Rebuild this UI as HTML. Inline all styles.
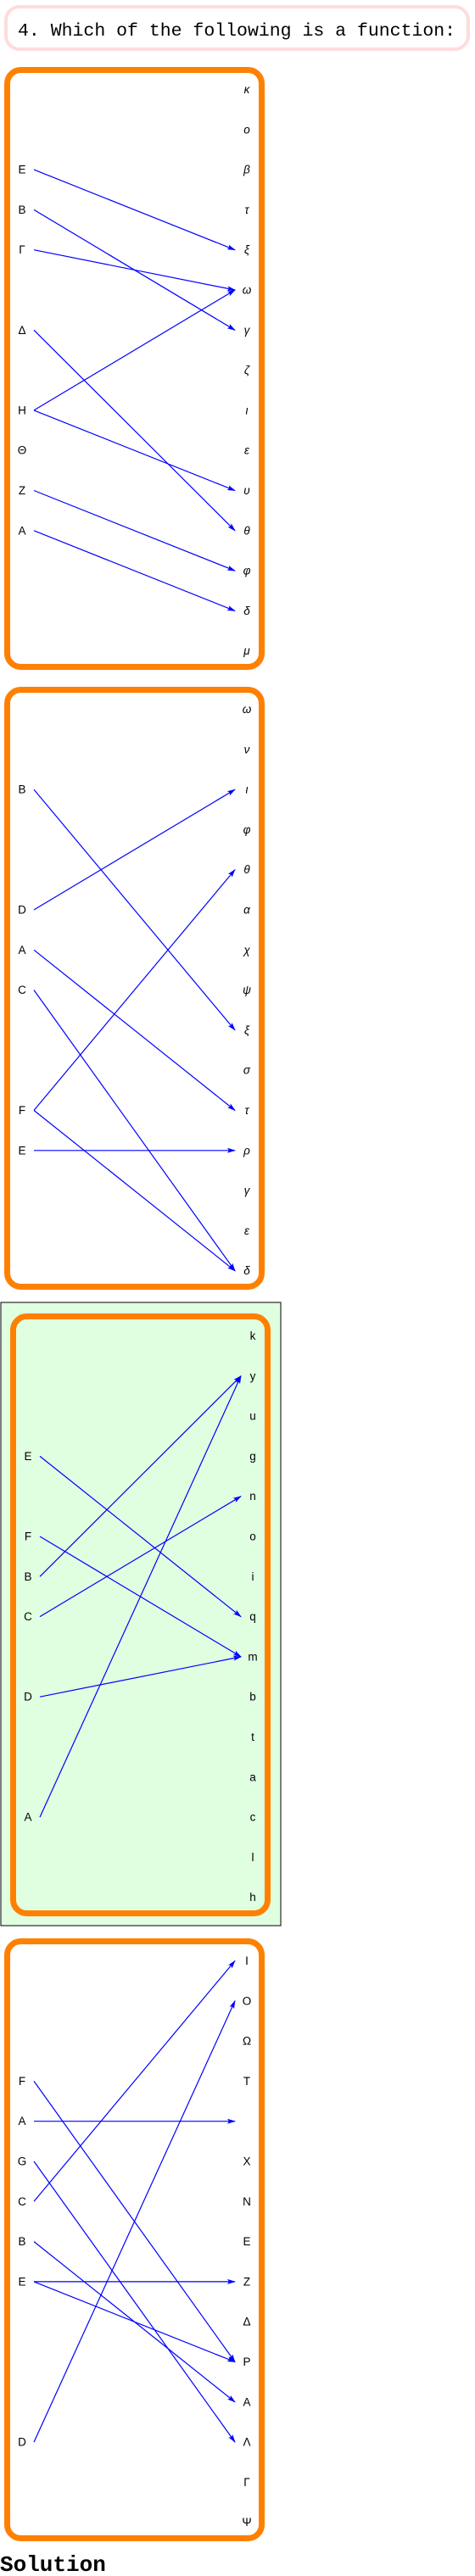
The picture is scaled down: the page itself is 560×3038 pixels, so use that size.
<!DOCTYPE html>
<html><head><meta charset="utf-8">
<style>
html,body{margin:0;padding:0;background:#fff;}
body{width:560px;height:3038px;position:relative;overflow:hidden;}
svg{position:absolute;left:0;top:0;}
</style></head>
<body>
<svg id="chart" width="560" height="3038" viewBox="0 0 560 3038" xmlns="http://www.w3.org/2000/svg">
  <defs>
    <marker id="ah" markerWidth="10" markerHeight="6" refX="9" refY="3" orient="auto" markerUnits="userSpaceOnUse">
      <path d="M0,0 L10,3 L0,6 L2,3 z" fill="#0000ff"/>
    </marker>
  </defs>
  <rect x="7" y="8" width="545" height="50" rx="16" fill="#fff" stroke="#ffdcdc" stroke-width="4"/>
  <text x="21" y="42" font-family="'Liberation Mono', monospace" font-size="21.5" fill="#000">4. Which of the following is a function:</text>
  <rect x="1" y="1536" width="330" height="735" fill="#e0ffe0" stroke="#000" stroke-width="1"/>
  <text x="0" y="3032" font-family="'Liberation Mono', monospace" font-size="26" font-weight="bold" fill="#000">Solution</text>
  <g id="panels"></g>
</svg>
<script>
// Panel 1
const p1Right = ["κ","ο","β","τ","ξ","ω","γ","ζ","ι","ε","υ","θ","φ","δ","μ"];
const p1Left = ["E","B","Γ","Δ","H","Θ","Z","A"];
const p1LeftRows = [2,3,4,6,8,9,10,11];
const p1From = ["E","B","Γ","Δ","H","H","Z","A"];
const p1To = ["ξ","γ","ω","θ","ω","υ","φ","δ"];
// Panel 2
const p2Right = ["ω","ν","ι","φ","θ","α","χ","ψ","ξ","σ","τ","ρ","γ","ε","δ"];
const p2Left = ["B","D","A","C","F","E"];
const p2LeftRows = [2,5,6,7,10,11];
const p2From = ["B","D","A","C","F","F","E"];
const p2To = ["ξ","ι","τ","δ","θ","δ","ρ"];
// Panel 3
const p3Right = ["k","y","u","g","n","o","i","q","m","b","t","a","c","l","h"];
const p3Left = ["E","F","B","C","D","A"];
const p3LeftRows = [3,5,6,7,9,12];
const p3From = ["E","F","B","C","D","A"];
const p3To = ["q","m","y","n","m","y"];
// Panel 4
const p4Right = ["I","O","Ω","T","","X","N","E","Z","Δ","P","A","Λ","Γ","Ψ"];
const p4Left = ["F","A","G","C","B","E","D"];
const p4LeftRows = [3,4,5,6,7,8,12];
const p4FromIdx = [0,1,2,3,4,5,5,6];
const p4ToIdx = [10,4,12,0,11,8,10,1];

const NS = "http://www.w3.org/2000/svg";
const root = document.getElementById("panels");
const ROW = 47.3;

function mk(tag, attrs, parent){
  const e = document.createElementNS(NS, tag);
  for (const k in attrs) e.setAttribute(k, attrs[k]);
  parent.appendChild(e);
  return e;
}

function panel(id, boxX, boxY, right, left, leftRows, fromIdx, toIdx, italic){
  const g = mk("g", {}, root);
  
  
  const box = mk("rect", {x: boxX + 3.5, y: boxY + 3.5, width: 300, height: 704, rx: 16, fill: "none", stroke: "#ff8000", "stroke-width": 7}, g);
  
  
  const row0 = boxY + 26.5;
  const yOf = r => row0 + r * ROW;
  const lx = boxX + 21, sx = boxX + 35, ex = boxX + 272, rx = boxX + 286;
  right.forEach((t, i) => {
    const tx = mk("text", {x: rx, y: yOf(i) + 4.5, "text-anchor": "middle", "font-family": "'Liberation Sans', sans-serif", "font-size": 13.5, "font-style": italic ? "italic" : "normal", fill: "#000"}, g);
    tx.textContent = t;
    
    
  });
  left.forEach((t, i) => {
    const tx = mk("text", {x: lx, y: yOf(leftRows[i]) + 4.5, "text-anchor": "middle", "font-family": "'Liberation Sans', sans-serif", "font-size": 13.5, fill: "#000"}, g);
    tx.textContent = t;
    
    
  });
  fromIdx.forEach((f, i) => {
    const ln = mk("line", {x1: sx, y1: yOf(leftRows[f]), x2: ex, y2: yOf(toIdx[i]), stroke: "#0000ff", "stroke-width": 1.2, "marker-end": "url(#ah)"}, g);
    
    
  });
}

panel(1, 5, 79, p1Right, p1Left, p1LeftRows, p1From.map(s => p1Left.indexOf(s)), p1To.map(s => p1Right.indexOf(s)), true);
panel(2, 5, 810, p2Right, p2Left, p2LeftRows, p2From.map(s => p2Left.indexOf(s)), p2To.map(s => p2Right.indexOf(s)), true);
panel(3, 12, 1549, p3Right, p3Left, p3LeftRows, p3From.map(s => p3Left.indexOf(s)), p3To.map(s => p3Right.indexOf(s)), false);
panel(4, 5, 2286, p4Right, p4Left, p4LeftRows, p4FromIdx, p4ToIdx, false);
</script>
</body></html>
